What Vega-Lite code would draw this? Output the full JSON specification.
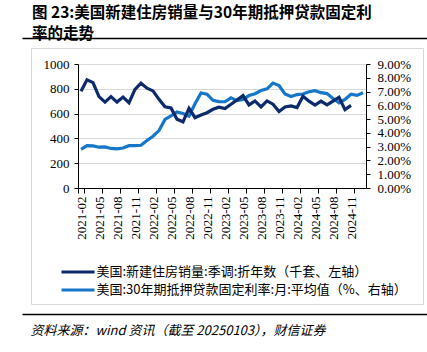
{
  "$schema": "https://vega.github.io/schema/vega-lite/v6.json",
  "autosize": {"type": "none"},
  "width": 288,
  "height": 124,
  "padding": {"left": 78, "top": 64, "right": 61, "bottom": 164},
  "background": "white",
  "title": {
    "text": ["图 23:美国新建住房销量与30年期抵押贷款固定利", "率的走势"],
    "anchor": "start",
    "frame": "group",
    "dx": -46,
    "offset": -19,
    "baseline": "bottom",
    "lineHeight": 21,
    "font": "Noto Sans CJK SC",
    "fontSize": 15.5,
    "fontWeight": "bold",
    "color": "#000000"
  },
  "data": {
    "values": [
      {"m": "2021-02", "sales": 780, "rate": 2.81},
      {"m": "2021-03", "sales": 872, "rate": 3.08},
      {"m": "2021-04", "sales": 850, "rate": 3.06},
      {"m": "2021-05", "sales": 737, "rate": 2.96},
      {"m": "2021-06", "sales": 693, "rate": 2.98},
      {"m": "2021-07", "sales": 737, "rate": 2.87},
      {"m": "2021-08", "sales": 693, "rate": 2.84},
      {"m": "2021-09", "sales": 733, "rate": 2.90},
      {"m": "2021-10", "sales": 688, "rate": 3.07},
      {"m": "2021-11", "sales": 795, "rate": 3.07},
      {"m": "2021-12", "sales": 845, "rate": 3.10},
      {"m": "2022-01", "sales": 805, "rate": 3.45},
      {"m": "2022-02", "sales": 783, "rate": 3.76},
      {"m": "2022-03", "sales": 715, "rate": 4.17},
      {"m": "2022-04", "sales": 655, "rate": 4.98},
      {"m": "2022-05", "sales": 645, "rate": 5.23},
      {"m": "2022-06", "sales": 555, "rate": 5.52},
      {"m": "2022-07", "sales": 534, "rate": 5.41},
      {"m": "2022-08", "sales": 642, "rate": 5.22},
      {"m": "2022-09", "sales": 567, "rate": 6.11},
      {"m": "2022-10", "sales": 588, "rate": 6.90},
      {"m": "2022-11", "sales": 607, "rate": 6.81},
      {"m": "2022-12", "sales": 635, "rate": 6.36},
      {"m": "2023-01", "sales": 652, "rate": 6.27},
      {"m": "2023-02", "sales": 641, "rate": 6.26},
      {"m": "2023-03", "sales": 676, "rate": 6.54},
      {"m": "2023-04", "sales": 710, "rate": 6.34},
      {"m": "2023-05", "sales": 745, "rate": 6.43},
      {"m": "2023-06", "sales": 670, "rate": 6.71},
      {"m": "2023-07", "sales": 702, "rate": 6.84},
      {"m": "2023-08", "sales": 654, "rate": 7.07},
      {"m": "2023-09", "sales": 702, "rate": 7.20},
      {"m": "2023-10", "sales": 676, "rate": 7.62},
      {"m": "2023-11", "sales": 616, "rate": 7.44},
      {"m": "2023-12", "sales": 654, "rate": 6.82},
      {"m": "2024-01", "sales": 662, "rate": 6.64},
      {"m": "2024-02", "sales": 649, "rate": 6.78},
      {"m": "2024-03", "sales": 740, "rate": 6.82},
      {"m": "2024-04", "sales": 700, "rate": 6.99},
      {"m": "2024-05", "sales": 668, "rate": 7.06},
      {"m": "2024-06", "sales": 700, "rate": 6.92},
      {"m": "2024-07", "sales": 670, "rate": 6.85},
      {"m": "2024-08", "sales": 700, "rate": 6.50},
      {"m": "2024-09", "sales": 732, "rate": 6.18},
      {"m": "2024-10", "sales": 632, "rate": 6.43},
      {"m": "2024-11", "sales": 666, "rate": 6.81},
      {"m": "2024-12", "sales": null, "rate": 6.72},
      {"m": "2025-01", "sales": null, "rate": 6.91}
    ]
  },
  "layer": [
    {
      "encoding": {
        "x": {
          "field": "m",
          "type": "ordinal",
          "scale": {"type": "band", "paddingInner": 0, "paddingOuter": 0},
          "axis": {
            "values": ["2021-02", "2021-05", "2021-08", "2021-11", "2022-02", "2022-05", "2022-08", "2022-11", "2023-02", "2023-05", "2023-08", "2023-11", "2024-02", "2024-05", "2024-08", "2024-11"],
            "labelAngle": 270,
            "labelFont": "Liberation Serif",
            "labelFontSize": 13,
            "labelColor": "#000000",
            "labelPadding": 3,
            "tickBand": "extent",
            "tickColor": "#000000",
            "tickSize": 5,
            "domainColor": "#000000",
            "grid": false,
            "title": "资料来源：wind 资讯（截至 20250103），财信证券",
            "titleFont": "Noto Sans CJK SC",
            "titleFontStyle": "italic",
            "titleFontSize": 13,
            "titleFontWeight": "normal",
            "titleColor": "#000000",
            "titleX": -48,
            "titleY": 142,
            "titleAnchor": "start",
            "titleAlign": "left",
            "titleBaseline": "middle"
          }
        }
      },
      "layer": [
        {
          "mark": {"type": "line", "strokeWidth": 3.2},
          "encoding": {
            "y": {
              "field": "rate",
              "type": "quantitative",
              "scale": {"domain": [0, 9], "nice": false},
              "axis": {
                "orient": "right",
                "values": [0, 1, 2, 3, 4, 5, 6, 7, 8, 9],
                "labelExpr": "format(datum.value, '.2f') + '%'",
                "grid": false,
                "labelFont": "Liberation Serif",
                "labelFontSize": 13,
                "labelColor": "#000000",
                "labelPadding": 7,
                "tickSize": 4,
                "tickColor": "#000000",
                "domainColor": "#000000",
                "title": null
              }
            },
            "color": {
              "datum": "美国:30年期抵押贷款固定利率:月:平均值（%、右轴）",
              "scale": {
                "domain": ["美国:新建住房销量:季调:折年数（千套、左轴）", "美国:30年期抵押贷款固定利率:月:平均值（%、右轴）"],
                "range": ["#0d2a6b", "#1677c9"]
              },
              "legend": {
                "orient": "none",
                "legendX": -7,
                "legendY": 201,
                "title": null,
                "symbolType": "M-3.3,0H3.3",
                "symbolSize": 100,
                "symbolStrokeWidth": 3.2,
                "labelFont": "Noto Sans CJK SC",
                "labelFontSize": 13,
                "labelColor": "#000000",
                "labelOffset": 11.5,
                "labelLimit": 400,
                "rowPadding": 4,
                "padding": 0
              }
            }
          }
        },
        {
          "mark": {"type": "line", "strokeWidth": 3.2},
          "encoding": {
            "y": {
              "field": "sales",
              "type": "quantitative",
              "scale": {"domain": [0, 1000], "nice": false},
              "axis": {
                "orient": "left",
                "values": [0, 200, 400, 600, 800, 1000],
                "format": "d",
                "grid": true,
                "gridColor": "#d9d9d9",
                "labelFont": "Liberation Serif",
                "labelFontSize": 13,
                "labelColor": "#000000",
                "labelPadding": 5,
                "tickSize": 4,
                "tickColor": "#000000",
                "domainColor": "#000000",
                "title": null
              }
            },
            "color": {
              "datum": "美国:新建住房销量:季调:折年数（千套、左轴）"
            }
          }
        }
      ],
      "resolve": {"scale": {"y": "independent"}}
    },
    {
      "mark": {"type": "point", "opacity": 0},
      "encoding": {
        "x": {
          "field": "m",
          "type": "ordinal",
          "scale": {"type": "point", "range": [-56, 349]},
          "axis": {"orient": "top", "offset": 26, "domainColor": "#000000", "domainWidth": 1.5, "ticks": false, "labels": false, "grid": false, "title": null}
        }
      }
    },
    {
      "mark": {"type": "point", "opacity": 0},
      "encoding": {
        "x": {
          "field": "m",
          "type": "ordinal",
          "scale": {"type": "point", "range": [-56, 349]},
          "axis": {"orient": "bottom", "offset": 126, "domainColor": "#000000", "domainWidth": 1.5, "ticks": false, "labels": false, "grid": false, "title": null}
        }
      }
    },
    {
      "mark": {"type": "point", "opacity": 0},
      "encoding": {
        "x": {
          "field": "m",
          "type": "ordinal",
          "scale": {"type": "point", "range": [-47, 345]},
          "axis": {"orient": "top", "offset": 16, "domainColor": "#d9d9d9", "domainWidth": 1, "ticks": false, "labels": false, "grid": false, "title": null}
        },
        "y": {
          "field": "m",
          "type": "ordinal",
          "scale": {"type": "point", "range": [240, -16]},
          "axis": {"orient": "left", "offset": 47, "domainColor": "#d9d9d9", "domainWidth": 1, "ticks": false, "labels": false, "grid": false, "title": null}
        }
      }
    },
    {
      "mark": {"type": "point", "opacity": 0},
      "encoding": {
        "x": {
          "field": "m",
          "type": "ordinal",
          "scale": {"type": "point", "range": [-47, 345]},
          "axis": {"orient": "bottom", "offset": 116, "domainColor": "#d9d9d9", "domainWidth": 1, "ticks": false, "labels": false, "grid": false, "title": null}
        },
        "y": {
          "field": "m",
          "type": "ordinal",
          "scale": {"type": "point", "range": [240, -16]},
          "axis": {"orient": "right", "offset": 57, "domainColor": "#d9d9d9", "domainWidth": 1, "ticks": false, "labels": false, "grid": false, "title": null}
        }
      }
    }
  ],
  "resolve": {"scale": {"x": "independent", "y": "independent"}, "axis": {"x": "independent", "y": "independent"}},
  "config": {"view": {"stroke": null}}
}
